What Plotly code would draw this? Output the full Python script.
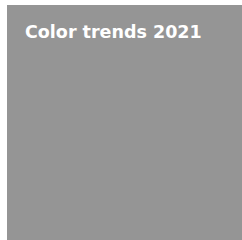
import plotly.graph_objects as go

# Data: a single colour swatch
swatch_names = ["Color trends 2021"]
swatch_values = [1]
swatch_colors = ["#959595"]

fig = go.Figure()
fig.add_trace(go.Heatmap(
    z=[swatch_values],
    x=swatch_names,
    colorscale=[[0, swatch_colors[0]], [1, swatch_colors[0]]],
    showscale=False,
    hoverinfo="skip",
))
fig.update_xaxes(visible=False)
fig.update_yaxes(visible=False)
fig.add_annotation(
    text="<b>" + swatch_names[0] + "</b>",
    xref="paper", yref="paper", x=0.070, y=0.936,
    xanchor="left", yanchor="top", showarrow=False,
    font=dict(family="DejaVu Sans", size=17.5, color="white"),
)
fig.update_layout(
    width=242, height=240,
    margin=dict(l=7, r=0, t=5, b=0),
    paper_bgcolor="white", plot_bgcolor="white",
)
fig.write_html("out.html", config={"displayModeBar": False},
               post_script="document.body.style.margin='0';")
